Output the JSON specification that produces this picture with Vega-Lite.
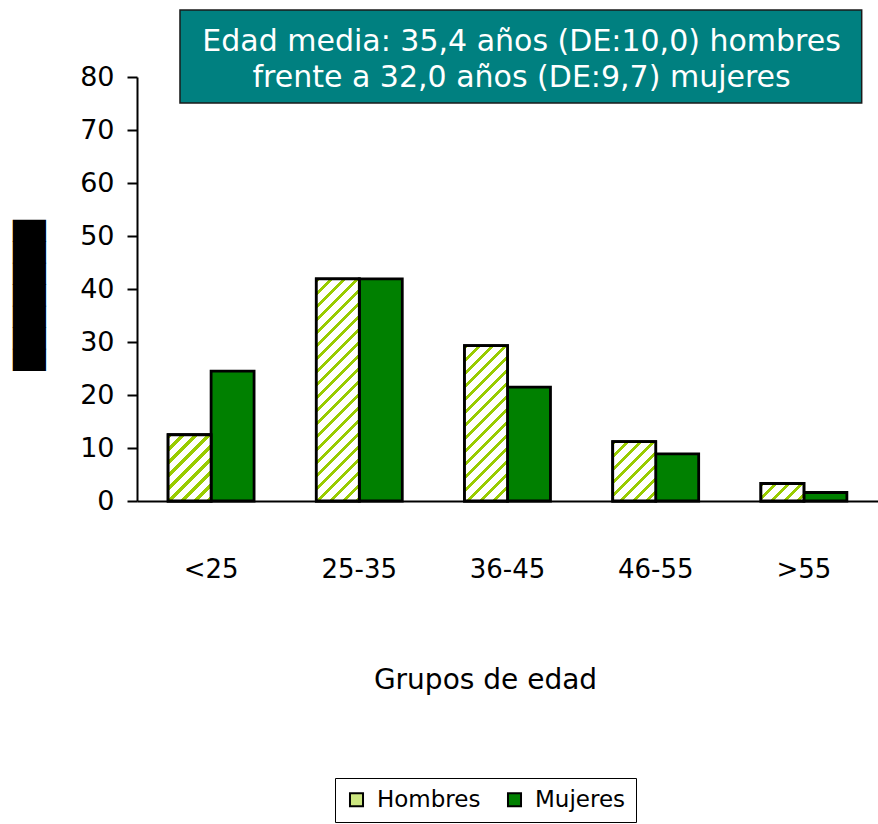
{
  "$schema": "https://vega.github.io/schema/vega-lite/v6.json",
  "width": 741,
  "height": 424,
  "autosize": {"type": "none"},
  "padding": {"left": 137, "top": 77, "right": 0, "bottom": 323},
  "background": "white",
  "datasets": {
    "barras": [
      {"grupo": "<25", "sexo": "Hombres", "valor": 12.5},
      {"grupo": "<25", "sexo": "Mujeres", "valor": 24.5},
      {"grupo": "25-35", "sexo": "Hombres", "valor": 41.9},
      {"grupo": "25-35", "sexo": "Mujeres", "valor": 41.9},
      {"grupo": "36-45", "sexo": "Hombres", "valor": 29.3},
      {"grupo": "36-45", "sexo": "Mujeres", "valor": 21.5},
      {"grupo": "46-55", "sexo": "Hombres", "valor": 11.2},
      {"grupo": "46-55", "sexo": "Mujeres", "valor": 8.9},
      {"grupo": ">55", "sexo": "Hombres", "valor": 3.3},
      {"grupo": ">55", "sexo": "Mujeres", "valor": 1.6}
    ],
    "nota": [
      {"texto": ["Edad media: 35,4 años (DE:10,0) hombres", "frente a 32,0 años (DE:9,7) mujeres"]}
    ]
  },
  "layer": [
    {
      "data": {"name": "barras"},
      "layer": [
        {
          "mark": {"type": "bar", "stroke": "black", "strokeWidth": 2.8},
          "encoding": {
            "x": {
              "field": "grupo", "type": "nominal",
              "sort": ["<25", "25-35", "36-45", "46-55", ">55"],
              "scale": {"paddingInner": 0.42, "paddingOuter": 0.21},
              "axis": {
                "title": "Grupos de edad", "titleFont": "DejaVu Sans", "titleFontSize": 28, "titleFontWeight": "normal",
                "titleX": 348, "titleY": 187, "titleAlign": "center", "titleBaseline": "alphabetic", "titleColor": "black",
                "labelFont": "DejaVu Sans", "labelFontSize": 26, "labelPadding": 76, "labelBaseline": "alphabetic",
                "labelAngle": 0, "labelColor": "black", "ticks": false, "tickSize": 0,
                "domainWidth": 2, "domainColor": "black", "grid": false
              }
            },
            "xOffset": {"field": "sexo", "type": "nominal", "scale": {"paddingInner": 0, "paddingOuter": 0}},
            "y": {
              "field": "valor", "type": "quantitative",
              "scale": {"domain": [0, 80], "nice": false},
              "axis": {
                "values": [0, 10, 20, 30, 40, 50, 60, 70, 80],
                "title": "███████", "titleFont": "DejaVu Sans", "titleFontSize": 28, "titleFontWeight": "normal",
                "titleX": -107, "titleY": 218, "titleAlign": "center", "titleBaseline": "middle", "titleColor": "black",
                "labelFont": "DejaVu Sans", "labelFontSize": 27, "labelPadding": 13, "labelColor": "black",
                "tickSize": 10, "tickWidth": 2, "tickColor": "black", "domainWidth": 2, "domainColor": "black", "grid": false
              }
            },
            "fill": {
              "field": "sexo", "type": "nominal",
              "scale": {"domain": ["Hombres", "Mujeres"], "range": ["#CCE680", "#008000"]},
              "legend": {
                "title": null, "orient": "none", "legendX": 198, "legendY": 701, "direction": "horizontal",
                "strokeColor": "black", "padding": 10, "fillColor": "white",
                "symbolType": "square", "symbolSize": 170, "symbolStrokeColor": "black", "symbolStrokeWidth": 2,
                "labelFont": "DejaVu Sans", "labelFontSize": 23, "labelColor": "black", "labelOffset": 9, "columnPadding": 22
              }
            }
          }
        },
        {
          "transform": [{"filter": "datum.sexo === 'Hombres'"}],
          "mark": {"type": "bar", "stroke": "black", "strokeWidth": 2.8},
          "encoding": {
            "x": {"field": "grupo", "type": "nominal", "sort": ["<25", "25-35", "36-45", "46-55", ">55"]},
            "xOffset": {"field": "sexo", "type": "nominal"},
            "y": {"field": "valor", "type": "quantitative"},
            "fill": {
              "condition": [
                {"test": "datum.grupo === '<25'", "value": {"gradient": "linear", "x1": 0, "y1": 0, "x2": 0.7531, "y2": 1.1602, "stops": [
                  {"offset": 0, "color": "#99CC00"}, {"offset": 0.0412, "color": "#99CC00"}, {"offset": 0.0412, "color": "#FFFFFF"}, {"offset": 0.1190, "color": "#FFFFFF"},
                  {"offset": 0.1190, "color": "#99CC00"}, {"offset": 0.1602, "color": "#99CC00"}, {"offset": 0.1602, "color": "#FFFFFF"}, {"offset": 0.2380, "color": "#FFFFFF"},
                  {"offset": 0.2380, "color": "#99CC00"}, {"offset": 0.2792, "color": "#99CC00"}, {"offset": 0.2792, "color": "#FFFFFF"}, {"offset": 0.3570, "color": "#FFFFFF"},
                  {"offset": 0.3570, "color": "#99CC00"}, {"offset": 0.3982, "color": "#99CC00"}, {"offset": 0.3982, "color": "#FFFFFF"}, {"offset": 0.4760, "color": "#FFFFFF"},
                  {"offset": 0.4760, "color": "#99CC00"}, {"offset": 0.5172, "color": "#99CC00"}, {"offset": 0.5172, "color": "#FFFFFF"}, {"offset": 0.5950, "color": "#FFFFFF"},
                  {"offset": 0.5950, "color": "#99CC00"}, {"offset": 0.6361, "color": "#99CC00"}, {"offset": 0.6361, "color": "#FFFFFF"}, {"offset": 0.7139, "color": "#FFFFFF"},
                  {"offset": 0.7139, "color": "#99CC00"}, {"offset": 0.7551, "color": "#99CC00"}, {"offset": 0.7551, "color": "#FFFFFF"}, {"offset": 0.8329, "color": "#FFFFFF"},
                  {"offset": 0.8329, "color": "#99CC00"}, {"offset": 0.8741, "color": "#99CC00"}, {"offset": 0.8741, "color": "#FFFFFF"}, {"offset": 0.9519, "color": "#FFFFFF"},
                  {"offset": 0.9519, "color": "#99CC00"}, {"offset": 0.9931, "color": "#99CC00"}, {"offset": 0.9931, "color": "#FFFFFF"}, {"offset": 1, "color": "#FFFFFF"}]}},
                {"test": "datum.grupo === '25-35'", "value": {"gradient": "linear", "x1": 0, "y1": 0, "x2": 0.2228, "y2": 1.1505, "stops": [
                  {"offset": 0, "color": "#99CC00"}, {"offset": 0.0170, "color": "#99CC00"}, {"offset": 0.0170, "color": "#FFFFFF"}, {"offset": 0.0490, "color": "#FFFFFF"},
                  {"offset": 0.0490, "color": "#99CC00"}, {"offset": 0.0660, "color": "#99CC00"}, {"offset": 0.0660, "color": "#FFFFFF"}, {"offset": 0.0981, "color": "#FFFFFF"},
                  {"offset": 0.0981, "color": "#99CC00"}, {"offset": 0.1151, "color": "#99CC00"}, {"offset": 0.1151, "color": "#FFFFFF"}, {"offset": 0.1471, "color": "#FFFFFF"},
                  {"offset": 0.1471, "color": "#99CC00"}, {"offset": 0.1641, "color": "#99CC00"}, {"offset": 0.1641, "color": "#FFFFFF"}, {"offset": 0.1962, "color": "#FFFFFF"},
                  {"offset": 0.1962, "color": "#99CC00"}, {"offset": 0.2131, "color": "#99CC00"}, {"offset": 0.2131, "color": "#FFFFFF"}, {"offset": 0.2452, "color": "#FFFFFF"},
                  {"offset": 0.2452, "color": "#99CC00"}, {"offset": 0.2622, "color": "#99CC00"}, {"offset": 0.2622, "color": "#FFFFFF"}, {"offset": 0.2943, "color": "#FFFFFF"},
                  {"offset": 0.2943, "color": "#99CC00"}, {"offset": 0.3112, "color": "#99CC00"}, {"offset": 0.3112, "color": "#FFFFFF"}, {"offset": 0.3433, "color": "#FFFFFF"},
                  {"offset": 0.3433, "color": "#99CC00"}, {"offset": 0.3603, "color": "#99CC00"}, {"offset": 0.3603, "color": "#FFFFFF"}, {"offset": 0.3924, "color": "#FFFFFF"},
                  {"offset": 0.3924, "color": "#99CC00"}, {"offset": 0.4093, "color": "#99CC00"}, {"offset": 0.4093, "color": "#FFFFFF"}, {"offset": 0.4414, "color": "#FFFFFF"},
                  {"offset": 0.4414, "color": "#99CC00"}, {"offset": 0.4584, "color": "#99CC00"}, {"offset": 0.4584, "color": "#FFFFFF"}, {"offset": 0.4904, "color": "#FFFFFF"},
                  {"offset": 0.4904, "color": "#99CC00"}, {"offset": 0.5074, "color": "#99CC00"}, {"offset": 0.5074, "color": "#FFFFFF"}, {"offset": 0.5395, "color": "#FFFFFF"},
                  {"offset": 0.5395, "color": "#99CC00"}, {"offset": 0.5565, "color": "#99CC00"}, {"offset": 0.5565, "color": "#FFFFFF"}, {"offset": 0.5885, "color": "#FFFFFF"},
                  {"offset": 0.5885, "color": "#99CC00"}, {"offset": 0.6055, "color": "#99CC00"}, {"offset": 0.6055, "color": "#FFFFFF"}, {"offset": 0.6376, "color": "#FFFFFF"},
                  {"offset": 0.6376, "color": "#99CC00"}, {"offset": 0.6545, "color": "#99CC00"}, {"offset": 0.6545, "color": "#FFFFFF"}, {"offset": 0.6866, "color": "#FFFFFF"},
                  {"offset": 0.6866, "color": "#99CC00"}, {"offset": 0.7036, "color": "#99CC00"}, {"offset": 0.7036, "color": "#FFFFFF"}, {"offset": 0.7357, "color": "#FFFFFF"},
                  {"offset": 0.7357, "color": "#99CC00"}, {"offset": 0.7526, "color": "#99CC00"}, {"offset": 0.7526, "color": "#FFFFFF"}, {"offset": 0.7847, "color": "#FFFFFF"},
                  {"offset": 0.7847, "color": "#99CC00"}, {"offset": 0.8017, "color": "#99CC00"}, {"offset": 0.8017, "color": "#FFFFFF"}, {"offset": 0.8337, "color": "#FFFFFF"},
                  {"offset": 0.8337, "color": "#99CC00"}, {"offset": 0.8507, "color": "#99CC00"}, {"offset": 0.8507, "color": "#FFFFFF"}, {"offset": 0.8828, "color": "#FFFFFF"},
                  {"offset": 0.8828, "color": "#99CC00"}, {"offset": 0.8998, "color": "#99CC00"}, {"offset": 0.8998, "color": "#FFFFFF"}, {"offset": 0.9318, "color": "#FFFFFF"},
                  {"offset": 0.9318, "color": "#99CC00"}, {"offset": 0.9488, "color": "#99CC00"}, {"offset": 0.9488, "color": "#FFFFFF"}, {"offset": 0.9809, "color": "#FFFFFF"},
                  {"offset": 0.9809, "color": "#99CC00"}, {"offset": 0.9979, "color": "#99CC00"}, {"offset": 0.9979, "color": "#FFFFFF"}, {"offset": 1, "color": "#FFFFFF"}]}},
                {"test": "datum.grupo === '36-45'", "value": {"gradient": "linear", "x1": 0, "y1": 0, "x2": 0.3284, "y2": 1.1860, "stops": [
                  {"offset": 0, "color": "#99CC00"}, {"offset": 0.0227, "color": "#99CC00"}, {"offset": 0.0227, "color": "#FFFFFF"}, {"offset": 0.0656, "color": "#FFFFFF"},
                  {"offset": 0.0656, "color": "#99CC00"}, {"offset": 0.0883, "color": "#99CC00"}, {"offset": 0.0883, "color": "#FFFFFF"}, {"offset": 0.1311, "color": "#FFFFFF"},
                  {"offset": 0.1311, "color": "#99CC00"}, {"offset": 0.1538, "color": "#99CC00"}, {"offset": 0.1538, "color": "#FFFFFF"}, {"offset": 0.1967, "color": "#FFFFFF"},
                  {"offset": 0.1967, "color": "#99CC00"}, {"offset": 0.2194, "color": "#99CC00"}, {"offset": 0.2194, "color": "#FFFFFF"}, {"offset": 0.2622, "color": "#FFFFFF"},
                  {"offset": 0.2622, "color": "#99CC00"}, {"offset": 0.2849, "color": "#99CC00"}, {"offset": 0.2849, "color": "#FFFFFF"}, {"offset": 0.3278, "color": "#FFFFFF"},
                  {"offset": 0.3278, "color": "#99CC00"}, {"offset": 0.3505, "color": "#99CC00"}, {"offset": 0.3505, "color": "#FFFFFF"}, {"offset": 0.3934, "color": "#FFFFFF"},
                  {"offset": 0.3934, "color": "#99CC00"}, {"offset": 0.4161, "color": "#99CC00"}, {"offset": 0.4161, "color": "#FFFFFF"}, {"offset": 0.4589, "color": "#FFFFFF"},
                  {"offset": 0.4589, "color": "#99CC00"}, {"offset": 0.4816, "color": "#99CC00"}, {"offset": 0.4816, "color": "#FFFFFF"}, {"offset": 0.5245, "color": "#FFFFFF"},
                  {"offset": 0.5245, "color": "#99CC00"}, {"offset": 0.5472, "color": "#99CC00"}, {"offset": 0.5472, "color": "#FFFFFF"}, {"offset": 0.5900, "color": "#FFFFFF"},
                  {"offset": 0.5900, "color": "#99CC00"}, {"offset": 0.6127, "color": "#99CC00"}, {"offset": 0.6127, "color": "#FFFFFF"}, {"offset": 0.6556, "color": "#FFFFFF"},
                  {"offset": 0.6556, "color": "#99CC00"}, {"offset": 0.6783, "color": "#99CC00"}, {"offset": 0.6783, "color": "#FFFFFF"}, {"offset": 0.7212, "color": "#FFFFFF"},
                  {"offset": 0.7212, "color": "#99CC00"}, {"offset": 0.7439, "color": "#99CC00"}, {"offset": 0.7439, "color": "#FFFFFF"}, {"offset": 0.7867, "color": "#FFFFFF"},
                  {"offset": 0.7867, "color": "#99CC00"}, {"offset": 0.8094, "color": "#99CC00"}, {"offset": 0.8094, "color": "#FFFFFF"}, {"offset": 0.8523, "color": "#FFFFFF"},
                  {"offset": 0.8523, "color": "#99CC00"}, {"offset": 0.8750, "color": "#99CC00"}, {"offset": 0.8750, "color": "#FFFFFF"}, {"offset": 0.9178, "color": "#FFFFFF"},
                  {"offset": 0.9178, "color": "#99CC00"}, {"offset": 0.9405, "color": "#99CC00"}, {"offset": 0.9405, "color": "#FFFFFF"}, {"offset": 0.9834, "color": "#FFFFFF"},
                  {"offset": 0.9834, "color": "#99CC00"}, {"offset": 1, "color": "#99CC00"}]}},
                {"test": "datum.grupo === '46-55'", "value": {"gradient": "linear", "x1": 0, "y1": 0, "x2": 0.8193, "y2": 1.1310, "stops": [
                  {"offset": 0, "color": "#99CC00"}, {"offset": 0.0440, "color": "#99CC00"}, {"offset": 0.0440, "color": "#FFFFFF"}, {"offset": 0.1270, "color": "#FFFFFF"},
                  {"offset": 0.1270, "color": "#99CC00"}, {"offset": 0.1710, "color": "#99CC00"}, {"offset": 0.1710, "color": "#FFFFFF"}, {"offset": 0.2540, "color": "#FFFFFF"},
                  {"offset": 0.2540, "color": "#99CC00"}, {"offset": 0.2980, "color": "#99CC00"}, {"offset": 0.2980, "color": "#FFFFFF"}, {"offset": 0.3810, "color": "#FFFFFF"},
                  {"offset": 0.3810, "color": "#99CC00"}, {"offset": 0.4250, "color": "#99CC00"}, {"offset": 0.4250, "color": "#FFFFFF"}, {"offset": 0.5080, "color": "#FFFFFF"},
                  {"offset": 0.5080, "color": "#99CC00"}, {"offset": 0.5520, "color": "#99CC00"}, {"offset": 0.5520, "color": "#FFFFFF"}, {"offset": 0.6350, "color": "#FFFFFF"},
                  {"offset": 0.6350, "color": "#99CC00"}, {"offset": 0.6790, "color": "#99CC00"}, {"offset": 0.6790, "color": "#FFFFFF"}, {"offset": 0.7620, "color": "#FFFFFF"},
                  {"offset": 0.7620, "color": "#99CC00"}, {"offset": 0.8060, "color": "#99CC00"}, {"offset": 0.8060, "color": "#FFFFFF"}, {"offset": 0.8890, "color": "#FFFFFF"},
                  {"offset": 0.8890, "color": "#99CC00"}, {"offset": 0.9330, "color": "#99CC00"}, {"offset": 0.9330, "color": "#FFFFFF"}, {"offset": 1, "color": "#FFFFFF"}]}},
                {"test": "datum.grupo === '>55'", "value": {"gradient": "linear", "x1": 0, "y1": 0, "x2": 1.2071, "y2": 0.4910, "stops": [
                  {"offset": 0, "color": "#99CC00"}, {"offset": 0.0744, "color": "#99CC00"}, {"offset": 0.0744, "color": "#FFFFFF"}, {"offset": 0.2149, "color": "#FFFFFF"},
                  {"offset": 0.2149, "color": "#99CC00"}, {"offset": 0.2893, "color": "#99CC00"}, {"offset": 0.2893, "color": "#FFFFFF"}, {"offset": 0.4298, "color": "#FFFFFF"},
                  {"offset": 0.4298, "color": "#99CC00"}, {"offset": 0.5042, "color": "#99CC00"}, {"offset": 0.5042, "color": "#FFFFFF"}, {"offset": 0.6447, "color": "#FFFFFF"},
                  {"offset": 0.6447, "color": "#99CC00"}, {"offset": 0.7191, "color": "#99CC00"}, {"offset": 0.7191, "color": "#FFFFFF"}, {"offset": 0.8596, "color": "#FFFFFF"},
                  {"offset": 0.8596, "color": "#99CC00"}, {"offset": 0.9340, "color": "#99CC00"}, {"offset": 0.9340, "color": "#FFFFFF"}, {"offset": 1, "color": "#FFFFFF"}]}}
              ],
              "value": "#FFFFFF"
            }
          }
        }
      ]
    },
    {
      "data": {"name": "nota"},
      "layer": [
        {
          "mark": {"type": "rect", "fill": "#008080", "stroke": "#1a1a1a", "strokeWidth": 1.5},
          "encoding": {
            "x": {"datum": 0.058, "type": "quantitative", "scale": {"domain": [0, 1]}, "axis": null},
            "x2": {"datum": 0.978},
            "y": {"datum": 92.64, "type": "quantitative", "scale": {"domain": [0, 80], "nice": false}},
            "y2": {"datum": 75.09}
          }
        },
        {
          "mark": {"type": "text", "align": "center", "baseline": "alphabetic", "font": "DejaVu Sans", "fontSize": 30, "lineHeight": 36, "fill": "white"},
          "encoding": {
            "text": {"field": "texto"},
            "x": {"datum": 0.519, "type": "quantitative", "scale": {"domain": [0, 1]}, "axis": null},
            "y": {"datum": 84.9, "type": "quantitative", "scale": {"domain": [0, 80], "nice": false}}
          }
        }
      ]
    }
  ],
  "resolve": {"scale": {"x": "independent"}, "axis": {"x": "independent"}},
  "config": {
    "view": {"stroke": null},
    "axis": {"grid": false}
  }
}
